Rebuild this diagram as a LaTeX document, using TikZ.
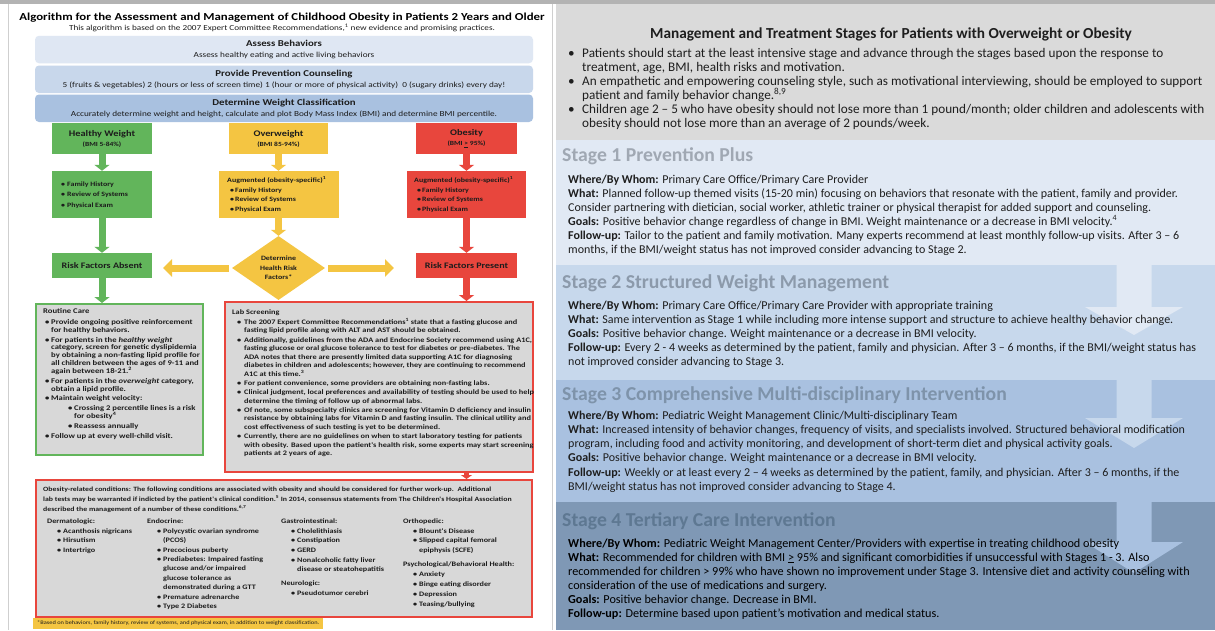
\documentclass[tikz,border=0pt]{standalone}
\usepackage{fontspec}
\setmainfont{Carlito}
\newfontfamily\lf[FakeStretch=1.2]{Carlito}
\usetikzlibrary{arrows.meta,shapes.geometric}
\definecolor{topband}{HTML}{B3B3B3}
\definecolor{edgegray}{HTML}{CFCFCF}
\definecolor{hdrgray}{HTML}{DADADA}
\definecolor{stA}{HTML}{E1E9F4}
\definecolor{stB}{HTML}{C7D8EC}
\definecolor{stC}{HTML}{A9C1E0}
\definecolor{stD}{HTML}{7F98B5}
\definecolor{stAt}{HTML}{A0A8B3}
\definecolor{stBt}{HTML}{8C9AAB}
\definecolor{stCt}{HTML}{7E93AA}
\definecolor{stDt}{HTML}{5E7892}
\definecolor{bxA}{HTML}{DFE7F3}
\definecolor{bxB}{HTML}{C8D7EB}
\definecolor{bxC}{HTML}{A9C1E0}
\definecolor{gr}{HTML}{62B55B}
\definecolor{ye}{HTML}{F4C542}
\definecolor{rd}{HTML}{E8463D}
\definecolor{lgray}{HTML}{D8D8D8}
\definecolor{ltxt}{HTML}{1C1C1C}
\definecolor{rtxt}{HTML}{1E1E1E}
\newcommand\bitem[3]{\par\hangindent=\dimexpr#1+#2\relax\hangafter=1\hspace*{#1}\makebox[#2][l]{\textbullet}#3}
\newcommand\sus[1]{\textsuperscript{#1}}
\begin{document}
\begin{tikzpicture}[x=1pt,y=-1pt,
  blk/.style={line width=7pt,-{Triangle[length=6pt,width=15pt]}},
  hblk/.style={line width=7pt,-{Triangle[length=9pt,width=17pt]}},
  cbx/.style={inner sep=0pt,draw=none,align=center,text=ltxt,font=\lf\bfseries\fontsize{6.3}{10}\selectfont},
  bbx/.style={inner sep=0pt,rounded corners=4pt,minimum width=498pt,minimum height=27.5pt,align=center,text=ltxt,font=\lf\fontsize{7.7}{10.5}\selectfont},
  tb/.style={inner sep=0pt,anchor=base west,text=ltxt},
  rt/.style={inner sep=0pt,anchor=base west,text=rtxt},
  panel/.style={draw,line width=2pt,fill=lgray,inner sep=0pt,anchor=north west},
  sttl/.style={inner sep=0pt,anchor=base west,font=\bfseries\fontsize{19.7}{22}\selectfont}]
\useasboundingbox (0,0) rectangle (1215,630);
\fill[white] (0,0) rectangle (1215,630);
\fill[topband] (0,0) rectangle (1215,4);
\draw[edgegray,line width=1pt] (8.5,4) -- (8.5,630);
\draw[edgegray,line width=1pt] (552,4) -- (552,630);
% ---------- right panel ----------
\fill[hdrgray] (556,4) rectangle (1215,140);
\fill[stA] (556,140) rectangle (1215,265);
\fill[stB] (556,265) rectangle (1215,380);
\fill[stC] (556,380) rectangle (1215,502);
\fill[stD] (556,502) rectangle (1215,630);
\fill[stA] (1116.5,265) -- (1151.5,265) -- (1151.5,307) -- (1183,307) -- (1134,335) -- (1085,307) -- (1116.5,307) -- cycle;
\fill[stB] (1116.5,380) -- (1151.5,380) -- (1151.5,418) -- (1183,418) -- (1134,448) -- (1085,418) -- (1116.5,418) -- cycle;
\fill[stC] (1116.5,502) -- (1151.5,502) -- (1151.5,542) -- (1183,542) -- (1134,573) -- (1085,542) -- (1116.5,542) -- cycle;

\node[inner sep=0pt,anchor=base,text=rtxt,font=\bfseries\fontsize{15.3}{17}\selectfont] (rhead) at (891,38.5) {Management and Treatment Stages for Patients with Overweight or Obesity};
\node[rt] (rbul) at (568,57) {\parbox[t]{700pt}{\fontsize{13.2}{14.1}\selectfont
\bitem{0pt}{14pt}{Patients should start at the least intensive stage and advance through the stages based upon the response to\newline treatment, age, BMI, health risks and motivation.}
\bitem{0pt}{14pt}{An empathetic and empowering counseling style, such as motivational interviewing, should be employed to support\newline patient and family behavior change.\sus{8,9}}
\bitem{0pt}{14pt}{Children age 2 – 5 who have obesity should not lose more than 1 pound/month; older children and adolescents with\newline obesity should not lose more than an average of 2 pounds/week.}}};

\node[sttl,text=stAt] (s1t) at (562,161) {Stage 1 Prevention Plus};
\node[rt] (s1b) at (568,183) {\parbox[t]{700pt}{\fontsize{12}{14.1}\selectfont
\textbf{Where/By Whom:} Primary Care Office/Primary Care Provider\newline
\textbf{What:} Planned follow-up themed visits (15-20 min) focusing on behaviors that resonate with the patient, family and provider.\newline
Consider partnering with dietician, social worker, athletic trainer or physical therapist for added support and counseling.\newline
\textbf{Goals:} Positive behavior change regardless of change in BMI. Weight maintenance or a decrease in BMI velocity.\sus{4}\newline
\textbf{Follow-up:} Tailor to the patient and family motivation. Many experts recommend at least monthly follow-up visits. After 3 – 6\newline
months, if the BMI/weight status has not improved consider advancing to Stage 2.}};

\node[sttl,text=stBt] (s2t) at (562,288) {Stage 2 Structured Weight Management};
\node[rt] (s2b) at (568,309) {\parbox[t]{700pt}{\fontsize{12}{14.1}\selectfont
\textbf{Where/By Whom:} Primary Care Office/Primary Care Provider with appropriate training\newline
\textbf{What:} Same intervention as Stage 1 while including more intense support and structure to achieve healthy behavior change.\newline
\textbf{Goals:} Positive behavior change. Weight maintenance or a decrease in BMI velocity.\newline
\textbf{Follow-up:} Every 2 - 4 weeks as determined by the patient, family and physician. After 3 – 6 months, if the BMI/weight status has\newline
not improved consider advancing to Stage 3.}};

\node[sttl,text=stCt] (s3t) at (562,400) {Stage 3 Comprehensive Multi-disciplinary Intervention};
\node[rt] (s3b) at (568,419) {\parbox[t]{700pt}{\fontsize{12}{14.3}\selectfont
\textbf{Where/By Whom:} Pediatric Weight Management Clinic/Multi-disciplinary Team\newline
\textbf{What:} Increased intensity of behavior changes, frequency of visits, and specialists involved. Structured behavioral modification\newline
program, including food and activity monitoring, and development of short-term diet and physical activity goals.\newline
\textbf{Goals:} Positive behavior change. Weight maintenance or a decrease in BMI velocity.\newline
\textbf{Follow-up:} Weekly or at least every 2 – 4 weeks as determined by the patient, family, and physician. After 3 – 6 months, if the\newline
BMI/weight status has not improved consider advancing to Stage 4.}};

\node[sttl,text=stDt] (s4t) at (562,526) {Stage 4 Tertiary Care Intervention};
\node[rt,text=black] (s4b) at (568,547) {\parbox[t]{700pt}{\fontsize{12.2}{14}\selectfont
\textbf{Where/By Whom:} Pediatric Weight Management Center/Providers with expertise in treating childhood obesity\newline
\textbf{What:} Recommended for children with BMI \underline{>} 95\% and significant comorbidities if unsuccessful with Stages 1 - 3. Also\newline
recommended for children > 99\% who have shown no improvement under Stage 3. Intensive diet and activity counseling with\newline
consideration of the use of medications and surgery.\newline
\textbf{Goals:} Positive behavior change. Decrease in BMI.\newline
\textbf{Follow-up:} Determine based upon patient's motivation and medical status.}};

% ---------- left panel ----------
\node[inner sep=0pt,anchor=base,text=black,font=\lf\bfseries\fontsize{10.7}{12}\selectfont] (title) at (282,20.5) {Algorithm for the Assessment and Management of Childhood Obesity in Patients 2 Years and Older};
\node[inner sep=0pt,anchor=base,text=ltxt,font=\lf\fontsize{7.65}{8}\selectfont] (subtitle) at (282,30.3) {This algorithm is based on the 2007 Expert Committee Recommendations,\sus{1} new evidence and promising practices.};

\node[bbx,fill=bxA] (assess) at (284,49.5) {{\bfseries\fontsize{9}{10.5}\selectfont Assess Behaviors}\\Assess healthy eating and active living behaviors};
\node[bbx,fill=bxB] (counsel) at (284,79.25) {{\bfseries\fontsize{9}{10.5}\selectfont Provide Prevention Counseling}\\5 (fruits \& vegetables) 2 (hours or less of screen time) 1 (hour or more of physical activity)\ \ 0 (sugary drinks) every day!};
\node[bbx,fill=bxC] (classify) at (284,108.25) {{\bfseries\fontsize{9}{10.5}\selectfont Determine Weight Classification}\\Accurately determine weight and height, calculate and plot Body Mass Index (BMI) and determine BMI percentile.};

\node[cbx,fill=gr,minimum width=100pt,minimum height=31pt] (hw) at (102,138.5) {{\fontsize{8.6}{10}\selectfont Healthy Weight}\\(BMI 5-84\%)};
\node[cbx,fill=ye,minimum width=99pt,minimum height=31pt] (ow) at (278.5,138.5) {{\fontsize{8.6}{10}\selectfont Overweight}\\(BMI 85-94\%)};
\node[cbx,fill=rd,minimum width=101pt,minimum height=31pt] (ob) at (466.5,138.5) {{\fontsize{8.6}{10}\selectfont Obesity}\\(BMI \underline{>} 95\%)};

\node[cbx,fill=gr,minimum width=100pt,minimum height=47pt] (hw2) at (102,194.5) {};
\node[cbx,fill=ye,minimum width=120pt,minimum height=47pt] (ow2) at (278.5,194.5) {};
\node[cbx,fill=rd,minimum width=119pt,minimum height=47pt] (ob2) at (466.5,194.5) {};
\node[tb] (hw2t) at (61,186.5) {\parbox[t]{90pt}{\lf\bfseries\fontsize{6.6}{10.3}\selectfont
\bitem{0pt}{6pt}{Family History}\bitem{0pt}{6pt}{Review of Systems}\bitem{0pt}{6pt}{Physical Exam}}};
\node[tb] (ow2t) at (227,182.2) {\parbox[t]{110pt}{\lf\bfseries\fontsize{6.6}{9.8}\selectfont
Augmented (obesity-specific)\sus{1}\bitem{3pt}{5pt}{Family History}\bitem{3pt}{5pt}{Review of Systems}\bitem{3pt}{5pt}{Physical Exam}}};
\node[tb] (ob2t) at (414,182.2) {\parbox[t]{110pt}{\lf\bfseries\fontsize{6.6}{9.8}\selectfont
Augmented (obesity-specific)\sus{1}\bitem{3pt}{5pt}{Family History}\bitem{3pt}{5pt}{Review of Systems}\bitem{3pt}{5pt}{Physical Exam}}};

\node[cbx,fill=gr,minimum width=100pt,minimum height=25pt,font=\lf\bfseries\fontsize{8.4}{10}\selectfont] (rfa) at (102,265.5) {Risk Factors Absent};
\node[cbx,fill=rd,minimum width=101pt,minimum height=25pt,font=\lf\bfseries\fontsize{8.4}{10}\selectfont] (rfp) at (466.5,265.5) {Risk Factors Present};
\node[diamond,fill=ye,minimum width=93pt,minimum height=64pt,inner sep=0pt,align=center,text=ltxt,font=\lf\bfseries\fontsize{6.6}{9.4}\selectfont] (dia) at (278.5,268) {Determine\\Health Risk\\Factors*};
\coordinate (tipL) at (163,268);
\coordinate (tipR) at (394,268);

\node[panel,draw=gr,minimum width=167pt,minimum height=151pt] (rc) at (35,303) {};
\node[panel,draw=rd,minimum width=308pt,minimum height=170pt] (lab) at (224,301) {};
\node[panel,draw=rd,minimum width=496pt,minimum height=137pt] (obr) at (35,479) {};
\node[fill=ye,inner xsep=4pt,inner ysep=0pt,minimum height=11pt,anchor=west,text=ltxt,font=\lf\fontsize{5.3}{6}\selectfont] (fn) at (33,623.5) {*Based on behaviors, family history, review of systems, and physical exam, in addition to weight classification.};

% arrows
\draw[blk,gr] (hw.south) -- (hw2.north);
\draw[blk,ye] (ow.south) -- (ow2.north);
\draw[blk,rd] (ob.south) -- (ob2.north);
\draw[blk,gr] (hw2.south) -- (rfa.north);
\draw[blk,ye] (ow2.south) -- (dia.north);
\draw[blk,rd] (ob2.south) -- (rfp.north);
\draw[hblk,ye] ([xshift=-3pt]dia.west) -- (tipL);
\draw[hblk,ye] ([xshift=3pt]dia.east) -- (tipR);
\draw[blk,gr] (rfa.south) -- (rfa.south |- rc.north);
\draw[blk,rd] (rfp.south) -- (rfp.south |- lab.north);
\draw[line width=5pt,rd,-{Triangle[length=4pt,width=11pt]}] (rfp.south |- lab.south) -- (rfp.south |- obr.north);

% text of the panels
\node[tb] (rct) at (43,313.5) {\parbox[t]{200pt}{\lf\bfseries\fontsize{7.2}{7.8}\selectfont\setlength{\parskip}{2.1pt}%
Routine Care\par\vspace{1pt}%
\bitem{2pt}{6pt}{Provide ongoing positive reinforcement\newline for healthy behaviors.}
\bitem{2pt}{6pt}{For patients in the \textit{healthy weight}\newline category, screen for genetic dyslipidemia\newline by obtaining a non-fasting lipid profile for\newline all children between the ages of 9-11 and\newline again between 18-21.\sus{2}}
\bitem{2pt}{6pt}{For patients in the \textit{overweight} category,\newline obtain a lipid profile.}
\bitem{2pt}{6pt}{Maintain weight velocity:}
\bitem{25pt}{6pt}{Crossing 2 percentile lines is a risk\newline for obesity\sus{4}}
\bitem{25pt}{6pt}{Reassess annually}
\bitem{2pt}{6pt}{Follow up at every well-child visit.}}};

\node[tb] (labt) at (232,314.3) {\parbox[t]{330pt}{\lf\bfseries\fontsize{6.9}{8.55}\selectfont\setlength{\parskip}{0.6pt}%
Lab Screening\par\vspace{0.9pt}%
\bitem{5pt}{7pt}{The 2007 Expert Committee Recommendations\sus{1} state that a fasting glucose and\newline fasting lipid profile along with ALT and AST should be obtained.}
\bitem{5pt}{7pt}{Additionally, guidelines from the ADA and Endocrine Society recommend using A1C,\newline fasting glucose or oral glucose tolerance to test for diabetes or pre-diabetes. The\newline ADA notes that there are presently limited data supporting A1C for diagnosing\newline diabetes in children and adolescents; however, they are continuing to recommend\newline A1C at this time.\sus{3}}
\bitem{5pt}{7pt}{For patient convenience, some providers are obtaining non-fasting labs.}
\bitem{5pt}{7pt}{Clinical judgment, local preferences and availability of testing should be used to help\newline determine the timing of follow up of abnormal labs.}
\bitem{5pt}{7pt}{Of note, some subspecialty clinics are screening for Vitamin D deficiency and insulin\newline resistance by obtaining labs for Vitamin D and fasting insulin. The clinical utility and\newline cost effectiveness of such testing is yet to be determined.}
\bitem{5pt}{7pt}{Currently, there are no guidelines on when to start laboratory testing for patients\newline with obesity. Based upon the patient's health risk, some experts may start screening\newline patients at 2 years of age.}}};

\node[tb] (obrt) at (43,491.2) {\parbox[t]{530pt}{\lf\bfseries\fontsize{6.5}{10}\selectfont
Obesity-related conditions: The following conditions are associated with obesity and should be considered for further work-up.\ \ Additional\newline lab tests may be warranted if indicted by the patient's clinical condition.\sus{5} In 2014, consensus statements from The Children's Hospital Association\newline described the management of a number of these conditions.\sus{6,7}}};

\node[tb] (derm) at (47,523.2) {\parbox[t]{100pt}{\lf\bfseries\fontsize{6.8}{9.5}\selectfont
Dermatologic:\par\vspace{0.5pt}%
\bitem{10pt}{6pt}{Acanthosis nigricans}\bitem{10pt}{6pt}{Hirsutism}\bitem{10pt}{6pt}{Intertrigo}}};
\node[tb] (endo) at (147,523.2) {\parbox[t]{130pt}{\lf\bfseries\fontsize{6.8}{9.45}\selectfont
Endocrine:\par\vspace{0.5pt}%
\bitem{10pt}{6pt}{Polycystic ovarian syndrome\newline (PCOS)}\bitem{10pt}{6pt}{Precocious puberty}\bitem{10pt}{6pt}{Prediabetes: Impaired fasting\newline glucose and/or impaired\newline glucose tolerance as\newline demonstrated during a GTT}\bitem{10pt}{6pt}{Premature adrenarche}\bitem{10pt}{6pt}{Type 2 Diabetes}}};
\node[tb] (gast) at (281,523.2) {\parbox[t]{120pt}{\lf\bfseries\fontsize{6.8}{9.6}\selectfont
Gastrointestinal:\par\vspace{0.5pt}%
\bitem{10pt}{6pt}{Cholelithiasis}\bitem{10pt}{6pt}{Constipation}\bitem{10pt}{6pt}{GERD}\bitem{10pt}{6pt}{Nonalcoholic fatty liver\newline disease or steatohepatitis}}};
\node[tb] (neuro) at (281,585.2) {\parbox[t]{120pt}{\lf\bfseries\fontsize{6.8}{9.8}\selectfont
Neurologic:\par\bitem{10pt}{6pt}{Pseudotumor cerebri}}};
\node[tb] (orth) at (403,523.2) {\parbox[t]{130pt}{\lf\bfseries\fontsize{6.8}{9.6}\selectfont
Orthopedic:\par\vspace{0.5pt}%
\bitem{10pt}{6pt}{Blount's Disease}\bitem{10pt}{6pt}{Slipped capital femoral\newline epiphysis (SCFE)}}};
\node[tb] (psych) at (403,566.2) {\parbox[t]{130pt}{\lf\bfseries\fontsize{6.8}{10}\selectfont
Psychological/Behavioral Health:\par
\bitem{10pt}{6pt}{Anxiety}\bitem{10pt}{6pt}{Binge eating disorder}\bitem{10pt}{6pt}{Depression}\bitem{10pt}{6pt}{Teasing/bullying}}};
\end{tikzpicture}
\end{document}
